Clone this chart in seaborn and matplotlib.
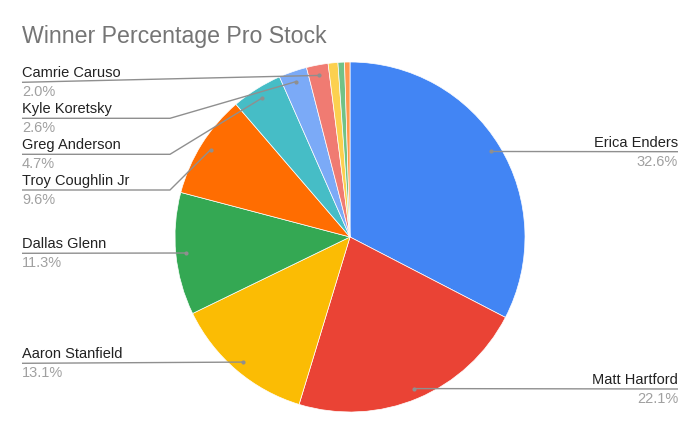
import numpy as np
import matplotlib
matplotlib.use("Agg")
import matplotlib.pyplot as plt
import seaborn as sns

# data
drivers = ["Erica Enders", "Matt Hartford", "Aaron Stanfield", "Dallas Glenn",
           "Troy Coughlin Jr", "Greg Anderson", "Kyle Koretsky", "Camrie Caruso",
           "Other A", "Other B", "Other C"]
win_pct = [32.6, 22.1, 13.1, 11.3, 9.6, 4.7, 2.6, 2.0, 0.9, 0.6, 0.5]
labeled = 8  # only the first 8 slices carry labels

colors = sns.color_palette(["#4285F4", "#EA4335", "#FBBC04", "#34A853", "#FF6D01",
                            "#46BDC6", "#7BAAF7", "#F07B72", "#FCD04F", "#71C287",
                            "#FF994D"])

sns.set_style("white")
plt.rcParams["font.family"] = ["Liberation Sans", "DejaVu Sans"]

W, H = 700, 433
fig = plt.figure(figsize=(7, 4.33), dpi=100)
ax = fig.add_axes([0, 0, 1, 1])

def Y(y):
    return H - y

cx, cy, r = 350, Y(237), 175
wedges, _ = ax.pie(win_pct, colors=colors, startangle=90, counterclock=False,
                   center=(cx, cy), radius=r, frame=True,
                   wedgeprops=dict(linewidth=0.5, edgecolor="white"))
ax.set_xlim(0, W)
ax.set_ylim(0, H)
ax.axis("off")

# label layout: side, line y (px from top), elbow x (None = straight)
layout = {
    "Erica Enders": ("right", 151.7, None),
    "Matt Hartford": ("right", 389, None),
    "Aaron Stanfield": ("left", 363.3, None),
    "Dallas Glenn": ("left", 253.3, None),
    "Troy Coughlin Jr": ("left", 190, 170),
    "Greg Anderson": ("left", 154.3, 170),
    "Kyle Koretsky": ("left", 118.3, 170),
    "Camrie Caruso": ("left", 82.3, None),
}
line_c = "#8f8f8f"
for i in range(labeled):
    w = wedges[i]
    name, val = drivers[i], win_pct[i]
    side, ly, ex = layout[name]
    mid = np.deg2rad((w.theta1 + w.theta2) / 2)
    dx, dy = cx + 0.94 * r * np.cos(mid), cy + 0.94 * r * np.sin(mid)
    end_x = 678 if side == "right" else 22
    xs, ys = [dx], [dy]
    if ex is not None:
        xs.append(ex); ys.append(Y(ly))
    xs.append(end_x); ys.append(Y(ly))
    ax.plot(xs, ys, color=line_c, lw=1.0, solid_capstyle="butt")
    ax.plot(dx, dy, "o", color=line_c, ms=3, mec="none")
    ha = "right" if side == "right" else "left"
    ax.text(end_x, Y(ly - 9), name, ha=ha, va="center", fontsize=10.5,
            color="#222222")
    ax.text(end_x, Y(ly + 10), f"{val:.1f}%", ha=ha, va="center",
            fontsize=10.5, color="#a0a0a0")

ax.text(22, Y(37), "Winner Percentage Pro Stock", ha="left", va="center",
        fontsize=16.7, color="#757575")

fig.savefig("out.png", dpi=100, facecolor="white")
